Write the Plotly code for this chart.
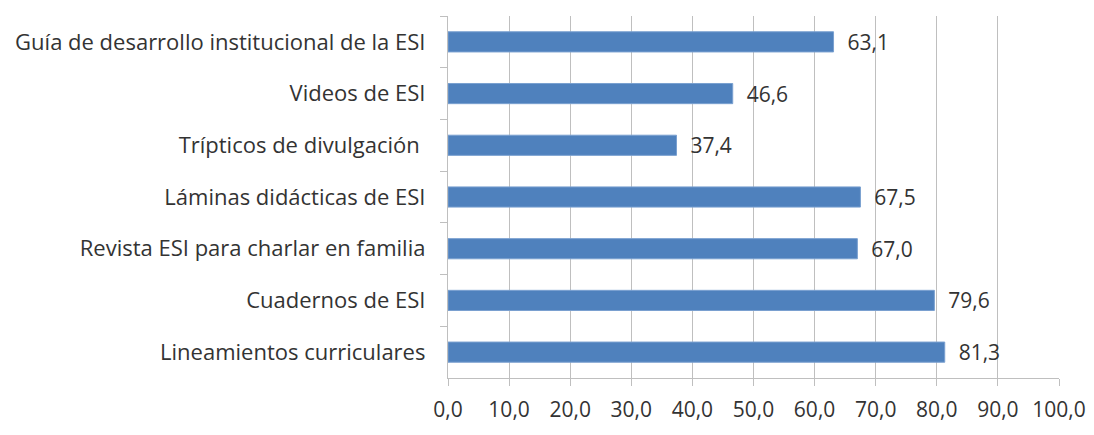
import plotly.graph_objects as go

categories = [
    "Guía de desarrollo institucional de la ESI",
    "Videos de ESI",
    "Trípticos de divulgación ",
    "Láminas didácticas de ESI",
    "Revista ESI para charlar en familia",
    "Cuadernos de ESI",
    "Lineamientos curriculares",
]
values = [63.1, 46.6, 37.4, 67.5, 67.0, 79.6, 81.3]
value_labels = ["63,1", "46,6", "37,4", "67,5", "67,0", "79,6", "81,3"]

FONT = "'Open Sans', Calibri, sans-serif"
TXT = "#333333"
FS = 22

fig = go.Figure(
    go.Bar(
        x=values,
        y=categories,
        orientation="h",
        marker=dict(color="#4F81BD", line=dict(color="#7AA0D0", width=1)),
        text=["  " + v for v in value_labels],
        textposition="outside",
        constraintext="none",
        textfont=dict(family=FONT, size=21, color=TXT),
        cliponaxis=False,
        width=0.39,
    )
)

fig.update_layout(
    width=1094,
    height=435,
    margin=dict(l=440, r=43, t=8, b=65),
    plot_bgcolor="white",
    paper_bgcolor="white",
    separators=",.",
    showlegend=False,
    font=dict(family=FONT, size=FS, color=TXT),
)
fig.update_xaxes(
    range=[0, 100],
    dtick=10,
    tick0=0,
    tickformat=".1f",
    showgrid=True,
    gridcolor="#BFBFBF",
    gridwidth=1.3,
    showline=True,
    linecolor="#BFBFBF",
    linewidth=1.3,
    ticks="outside",
    ticklen=7,
    tickcolor="#BFBFBF",
    tickwidth=1.3,
    zeroline=False,
    ticklabelstandoff=6,
    tickfont=dict(family=FONT, size=21, color=TXT),
)
fig.update_yaxes(
    type="category",
    autorange="reversed",
    tickson="boundaries",
    ticks="outside",
    ticklen=7,
    tickcolor="#BFBFBF",
    tickwidth=1.3,
    showline=True,
    linecolor="#BFBFBF",
    linewidth=1.3,
    showgrid=False,
    ticklabelstandoff=17,
    tickfont=dict(family=FONT, size=FS, color=TXT),
)

fig.write_html("out.html")
